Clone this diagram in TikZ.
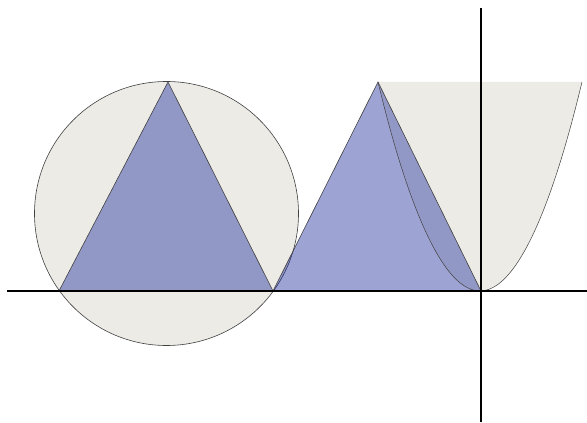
\documentclass[tikz,border=0pt]{standalone}
\begin{document}
\begin{tikzpicture}[x=1pt,y=1pt,
  grayfill/.style={fill=paleshade},
  edge/.style={draw=black!75,line width=0.6pt},
  bluefill/.style={fill=tricol,fill opacity=0.42},
  axis/.style={line width=2pt,black}]
\definecolor{paleshade}{RGB}{236,235,230}
\definecolor{tricol}{RGB}{22,38,153}
\useasboundingbox (0,0) rectangle (587,423);
% named points (y measured from bottom)
\coordinate (C) at (166.5,209.5);
\coordinate (A1) at (59,132);
\coordinate (B1) at (273,132);
\coordinate (T1) at (168,341);
\coordinate (T2) at (378,341);
\coordinate (B2) at (481,132);
\coordinate (V) at (480,132);
\coordinate (P2) at (582,341);
% circle
\path[grayfill,edge] (C) circle (132);
% first triangle
\path[bluefill] (A1) -- (T1) -- (B1) -- cycle;
\draw[edge] (A1) -- (T1) -- (B1) -- cycle;
% parabola region
\path[grayfill] (T2) parabola bend (V) (P2) -- cycle;
% second triangle
\path[bluefill] (B1) -- (T2) -- (B2) -- cycle;
\draw[edge] (B1) -- (T2) -- (B2);
% parabola curve
\draw[edge,line width=0.5pt] (T2) parabola bend (V) (P2);
% axes
\coordinate (XL) at (7,132);
\coordinate (XR) at (587,132);
\coordinate (YT) at (481,415);
\coordinate (YB) at (481,1);
\draw[axis] (XL) -- (XR);
\draw[axis] (YB) -- (YT);
\end{tikzpicture}
\end{document}
